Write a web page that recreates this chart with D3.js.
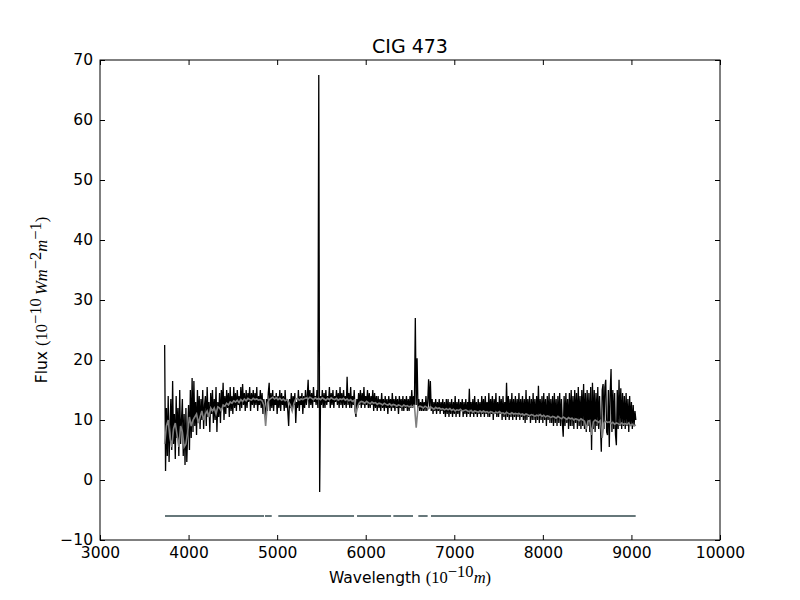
<!DOCTYPE html>
<html>
<head>
<meta charset="utf-8">
<script src="https://cdn.jsdelivr.net/npm/d3@7"></script>
<style>
  html, body { margin: 0; padding: 0; background: #fff; }
  svg { display: block; }
  .tick text { font-family: "DejaVu Sans", sans-serif; font-size: 15.5px; fill: #000; }
  .tick line { stroke: #000; }
  .lbl { font-family: "DejaVu Sans", sans-serif; font-size: 15.5px; fill: #000; }
  .math { font-family: "Liberation Serif", "DejaVu Serif", serif; font-size: 16.5px; }
  .title { font-family: "DejaVu Sans", sans-serif; font-size: 19px; fill: #000; }
</style>
</head>
<body>
<div id="chart"></div>
<script>
const OBS_START = 3730;
const OBS_STEP = 10;
const obsFlux = [
  // 3730 - 3920
  22.5, 1.5, 12, 4, 14, 3, 9, 13.5, 5, 16.5, 6, 11, 3.5, 14, 7, 12, 4, 15, 6, 10,
  // 3930 - 4120
  13.5, 4, 11, 2.5, 12, 3, 8, 12.5, 5, 15, 7, 17, 8, 16.5, 9, 13, 7.5, 15, 9.5, 14,
  // 4130 - 4320
  8.5, 13.5, 10, 15, 8.5, 12.5, 14, 9, 15.5, 10.5, 13, 8, 14.5, 11, 15, 9.5, 13.5, 10, 15.5, 8,
  // 4330 - 4520
  13, 10.5, 14.5, 9.5, 15, 12, 16.2, 10, 14, 11, 15, 12, 14.5, 10.5, 15.5, 11.5, 14, 11, 15.5, 12,
  // 4530 - 4720
  14.5, 11.5, 15, 12.5, 14, 11.5, 15.5, 12, 16, 12.5, 14.5, 11.5, 15, 12, 14.5, 13, 15.5, 11.5, 14.5, 12.5,
  // 4730 - 4920
  15, 12, 14.5, 12.5, 15.5, 11.5, 14, 12.5, 15, 12, 14.5, 11, 13.5, 12, 10.5, 13.5, 11.5, 14.5, 16.2, 11.5,
  // 4930 - 5120
  14.5, 12, 15, 11.5, 14, 12.5, 14.5, 11, 14, 12, 15, 11.5, 14.5, 12.5, 14, 11.5, 15, 12, 13.5, 11.5,
  // 5130 - 5320
  9, 13.5, 12, 14.5, 11.5, 14, 12.5, 14.5, 9.5, 13, 12, 15, 11.5, 14, 12.5, 14.5, 11, 14, 12, 15,
  // 5330 - 5520
  12.5, 14, 16.7, 12, 15, 12.5, 14.5, 12, 15.5, 13, 14, 12.5, 15, 12, 67.5, -2, 14, 12.5, 15, 12,
  // 5530 - 5720
  14.5, 12, 15, 12.5, 14, 13, 15.5, 12, 14.5, 12.5, 15, 12, 14, 13, 15, 12.5, 14.5, 12, 15.5, 12.5,
  // 5730 - 5920
  14.5, 12, 15, 12.5, 14, 12, 17.2, 12.5, 14.5, 12, 15.5, 12, 14, 12.5, 15, 11.5, 10.5, 13.5, 12, 14.5,
  // 5930 - 6120
  12.5, 15, 12, 14.5, 12.5, 15.5, 12, 14, 12.5, 15, 12, 14.5, 12, 14, 12.5, 15, 11.5, 14.5, 12, 14,
  // 6130 - 6320
  11.5, 14, 12, 13.5, 11.5, 14.5, 12, 13.5, 11.5, 14, 12, 13.5, 11, 14, 12, 13.5, 11.5, 14.5, 12, 13.5,
  // 6330 - 6520
  11.5, 14, 12, 13.5, 11, 14, 12, 13.5, 11.5, 14, 11.5, 13.5, 12, 14, 11.5, 13.5, 11.5, 14, 12, 15,
  // 6530 - 6720
  12, 14, 12.5, 27, 12.5, 20.3, 12, 13.5, 11.5, 13, 11.5, 13.5, 11.5, 13, 11.5, 14, 11.5, 13, 16.8, 12,
  // 6730 - 6920
  16.5, 11.5, 13.5, 11, 13, 11.5, 13.5, 11, 13, 11.5, 13.5, 11, 13, 11.5, 13.5, 11, 13, 10.5, 13.5, 11,
  // 6930 - 7120
  13.5, 10.5, 13, 11, 13.5, 10.5, 13, 11, 14, 10.5, 13, 11, 13.5, 10.5, 13, 11.5, 13.5, 10.5, 13, 11,
  // 7130 - 7320
  13.5, 10.5, 13, 11, 15.2, 10.5, 13, 11, 13.5, 10.5, 14, 11, 13, 10.5, 13.5, 11, 13, 10.5, 14, 11,
  // 7330 - 7520
  13.5, 10.5, 14, 11, 13, 10.5, 14.5, 10.5, 13.5, 11, 14, 10, 13.5, 11, 14.5, 10.5, 13, 10.5, 14, 11,
  // 7530 - 7720
  13.5, 10, 14, 10.5, 13, 10, 16.2, 10.5, 14, 10, 13.5, 10.5, 14.5, 10, 13.5, 10.5, 14, 10, 13.5, 10.5,
  // 7730 - 7920
  14.5, 10, 13.5, 10.5, 14, 10, 13.5, 9.5, 15, 10, 13.5, 10.5, 14, 9.5, 13.5, 10, 14.5, 10, 13.5, 9.5,
  // 7930 - 8120
  14, 10, 15.7, 9.5, 13.5, 10, 14, 9.5, 14.5, 10, 13.5, 9, 14, 10, 14.5, 9.5, 13.5, 9.5, 14, 9,
  // 8130 - 8320
  14.5, 9.5, 13.5, 9, 14, 9.5, 14.5, 9, 13.5, 9.5, 7.2, 14, 9, 14.5, 9.5, 13.5, 8.5, 14.5, 9, 15,
  // 8330 - 8520
  9, 14, 8.5, 15, 9.5, 14.5, 8.5, 15.5, 9, 14, 8.5, 15, 9, 16, 8.5, 14.5, 8, 15, 9, 14.5,
  // 8530 - 8720
  8, 15.5, 5, 16.2, 8.5, 15, 8, 14.5, 9, 15.5, 8.5, 14, 9, 4.7, 15, 16, 8.5, 15.5, 16.7, 8,
  // 8730 - 8920
  7.5, 15, 5.5, 14.5, 18.5, 8, 15, 8.5, 14.5, 7.5, 5.8, 15, 8.5, 16.7, 9, 15.3, 8.5, 14.5, 9, 14,
  // 8930 - 9050
  8.5, 14.5, 9, 13.5, 8, 14, 9, 13, 8.5, 12.5, 9, 11.5, 10,
];

// Model spectrum (gray): flux every 20 A from 3730 A.
const MOD_START = 3730;
const MOD_STEP = 20;
const modFlux = [
  // 3730 - 4110
  6, 9, 10, 7, 5.5, 8.5, 9.5, 7.5, 5.5, 9, 8, 5.5, 6, 8, 10.5, 9, 10, 10.5, 11, 9.5,
  // 4130 - 4510
  10.5, 11.5, 10, 11, 11.5, 10.5, 12, 11.5, 12, 11, 12.2, 12, 11.5, 12.5, 12.3, 12.8, 12.5, 13, 12.8, 13.2,
  // 4530 - 4910
  13, 13.3, 12.9, 13.4, 13.1, 13.5, 13.2, 13.6, 13.4, 13.3, 13.6, 13.4, 13.5, 13.3, 13.4, 13.2, 12.5, 9, 12.8, 13.4,
  // 4930 - 5310
  13.6, 13.8, 13.5, 13.7, 13.4, 13.6, 13.3, 13.5, 13.2, 13.4, 13, 12.5, 11.5, 12.8, 13.5, 13.6, 13.3, 13.5, 13.4, 13.6,
  // 5330 - 5710
  13.7, 13.5, 13.8, 13.6, 13.4, 13.7, 13.5, 13.6, 13.4, 13.7, 13.5, 13.3, 13.6, 13.4, 13.7, 13.5, 13.4, 13.6, 13.3, 13.5,
  // 5730 - 6110
  13.4, 13.6, 13.3, 13.5, 13.2, 13.4, 13.1, 13.3, 11, 12.3, 12.9, 13.1, 13, 12.8, 13.1, 12.9, 12.7, 13, 12.8, 12.9,
  // 6130 - 6510
  12.6, 12.8, 12.7, 12.5, 12.8, 12.6, 12.5, 12.7, 12.4, 12.6, 12.5, 12.3, 12.5, 12.4, 12.2, 12.5, 12.3, 12.4, 12.2, 12.3,
  // 6530 - 6910
  12.2, 12.4, 8.7, 12.1, 12.3, 12.2, 12, 12.3, 12.1, 11.9, 12.2, 12, 11.8, 12.1, 11.9, 12, 11.8, 11.9, 11.7, 11.9,
  // 6930 - 7310
  11.7, 11.9, 11.6, 11.8, 11.5, 11.7, 11.6, 11.8, 11.5, 11.6, 11.7, 11.5, 11.4, 11.6, 11.3, 11.5, 11.4, 11.3, 11.5, 11.3,
  // 7330 - 7710
  11.5, 11.3, 11.4, 11.2, 11.4, 11.3, 11.1, 11.3, 11.2, 11.4, 11.1, 11.2, 11, 11.3, 11.1, 11, 11.2, 11, 11.1, 11,
  // 7730 - 8110
  11.1, 10.9, 11, 10.8, 11, 10.9, 10.7, 10.9, 10.8, 10.6, 10.8, 10.7, 10.9, 10.6, 10.8, 10.5, 10.7, 10.6, 10.4, 10.6,
  // 8130 - 8510
  10.5, 10.3, 10.6, 10.4, 10.2, 10.5, 10.3, 10.1, 10.4, 10.2, 10.3, 10, 10.2, 10.1, 9.9, 10.2, 10, 9.8, 8.5, 9.8,
  // 8530 - 8910
  9.9, 7.5, 9.7, 10, 9.8, 9.6, 9.9, 7, 9.5, 9.8, 9.6, 9.7, 9.4, 9.6, 9.3, 9.5, 9.4, 9.2, 9.5, 9.3,
  // 8930 - 9050
  9.4, 9.2, 9.5, 9.1, 9.3, 9, 9.2,
];

// Masked (good-pixel) wavelength ranges, drawn as a strip at flux = -6.
const MASK_LEVEL = -6;
const maskRanges = [
  [3734, 4852], [4863, 4939], [5013, 5868], [5902, 6286],
  [6312, 6534], [6594, 6699], [6737, 9048],
];

const xTicks = [3000, 4000, 5000, 6000, 7000, 8000, 9000, 10000];
const yTicks = [-10, 0, 10, 20, 30, 40, 50, 60, 70];

const width = 800, height = 600;
const margin = { top: 60, right: 80, bottom: 60, left: 100 };
const innerW = width - margin.left - margin.right;
const innerH = height - margin.top - margin.bottom;

const svg = d3.select('#chart').append('svg')
  .attr('width', width).attr('height', height);

const g = svg.append('g').attr('transform', `translate(${margin.left},${margin.top})`);

const x = d3.scaleLinear().domain([3000, 10000]).range([0, innerW]);
const y = d3.scaleLinear().domain([-10, 70]).range([innerH, 0]);

const fmt = (d) => String(d).replace('-', '\u2212');

// inward ticks on all four sides (matplotlib classic look)
const TICK = 5;
g.append('g').attr('transform', `translate(0,${innerH})`)
  .call(d3.axisBottom(x).tickValues(xTicks).tickFormat(fmt).tickSizeInner(-TICK).tickSizeOuter(0).tickPadding(7));
g.append('g')
  .call(d3.axisTop(x).tickValues(xTicks).tickFormat('').tickSizeInner(-TICK).tickSizeOuter(0));
g.append('g')
  .call(d3.axisLeft(y).tickValues(yTicks).tickFormat(fmt).tickSizeInner(-TICK).tickSizeOuter(0).tickPadding(7));
g.append('g').attr('transform', `translate(${innerW},0)`)
  .call(d3.axisRight(y).tickValues(yTicks).tickFormat('').tickSizeInner(-TICK).tickSizeOuter(0));
g.selectAll('.domain').remove();

g.append('clipPath').attr('id', 'plot-clip')
  .append('rect').attr('width', innerW).attr('height', innerH);

const plot = g.append('g').attr('clip-path', 'url(#plot-clip)');

const obsPts = obsFlux.map((f, i) => ({ w: OBS_START + i * OBS_STEP, f }));
const modPts = modFlux.map((f, i) => ({ w: MOD_START + i * MOD_STEP, f }));

const line = d3.line().x((d) => x(d.w)).y((d) => y(d.f));

plot.append('path').datum(obsPts)
  .attr('fill', 'none').attr('stroke', '#000').attr('stroke-width', 1.3)
  .attr('d', line);

plot.append('path').datum(modPts)
  .attr('fill', 'none').attr('stroke', '#808080').attr('stroke-width', 1.6)
  .attr('d', line);

plot.selectAll('line.mask').data(maskRanges).join('line')
  .attr('class', 'mask')
  .attr('x1', (d) => x(d[0])).attr('x2', (d) => x(d[1]))
  .attr('y1', y(MASK_LEVEL)).attr('y2', y(MASK_LEVEL))
  .attr('stroke', '#66777a').attr('stroke-width', 2);

// frame
g.append('rect').attr('width', innerW).attr('height', innerH)
  .attr('fill', 'none').attr('stroke', '#000').attr('stroke-width', 1);

// title
svg.append('text').attr('class', 'title')
  .attr('x', margin.left + innerW / 2).attr('y', 53)
  .attr('text-anchor', 'middle').text('CIG 473');

// mathtext-style labels built from tspans; sup raises by SUP px, next part drops back
const SUP = 6;
function addMath(textSel, parts) {
  let raised = false;
  parts.forEach((p) => {
    const t = textSel.append('tspan').text(p.t);
    if (p.math) t.attr('class', 'math');
    if (p.it) t.attr('font-style', 'italic');
    if (p.sup) {
      t.attr('font-size', '11px');
      if (!raised) t.attr('dy', -SUP);
      raised = true;
    } else if (raised) {
      t.attr('dy', SUP);
      raised = false;
    }
  });
}

const xl = svg.append('text').attr('class', 'lbl')
  .attr('x', margin.left + innerW / 2).attr('y', 583).attr('text-anchor', 'middle');
addMath(xl, [
  { t: 'Wavelength ' },
  { t: '(10', math: true },
  { t: '\u221210', math: true, sup: true },
  { t: 'm', math: true, it: true },
  { t: ')', math: true },
]);

const yl = svg.append('text').attr('class', 'lbl')
  .attr('transform', `translate(47,${margin.top + innerH / 2}) rotate(-90)`)
  .attr('text-anchor', 'middle');
addMath(yl, [
  { t: 'Flux ' },
  { t: '(10', math: true },
  { t: '\u221210', math: true, sup: true },
  { t: '\u2009Wm', math: true, it: true },
  { t: '\u22122', math: true, sup: true },
  { t: 'm', math: true, it: true },
  { t: '\u22121', math: true, sup: true },
  { t: ')', math: true },
]);
</script>
</body>
</html>
